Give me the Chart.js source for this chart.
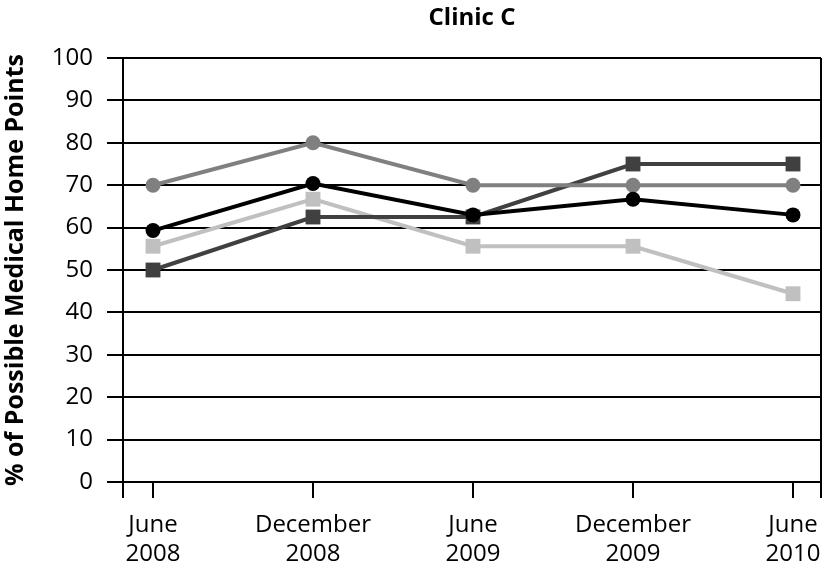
<!DOCTYPE html>
<html>
<head>
<meta charset="utf-8">
<script src="https://cdn.jsdelivr.net/npm/chart.js@4/dist/chart.umd.min.js"></script>
<style>
  html, body { margin: 0; padding: 0; background: #fff; }
  #wrap { width: 825px; height: 570px; }
</style>
</head>
<body>
<div id="wrap"><canvas id="chart" width="825" height="570"></canvas></div>
<script>
// --- Data ---
const categories = [['June', '2008'], ['December', '2008'], ['June', '2009'], ['December', '2009'], ['June', '2010']];
const blackCircles = [59.3, 70.4, 63.0, 66.7, 63.0];
const grayCircles = [70, 80, 70, 70, 70];
const darkSquares = [50, 62.5, 62.5, 75, 75];
const lightSquares = [55.6, 66.7, 55.6, 55.6, 44.4];
const yTicks = [0, 10, 20, 30, 40, 50, 60, 70, 80, 90, 100];

const FONT = '"Open Sans", "DejaVu Sans", sans-serif';
const xMin = -0.1875, xMax = 4.175;

function pts(values) {
  return values.map((v, i) => ({ x: i, y: v }));
}

function series(label, values, color, style) {
  const isRect = style === 'rect';
  return {
    label,
    data: pts(values),
    borderColor: color,
    backgroundColor: color,
    borderWidth: 4,
    pointStyle: style,
    pointRadius: isRect ? 10.5 : 7.5,
    pointBorderWidth: 0,
    tension: 0
  };
}

// title drawn centred over the plot area
const plotTitle = {
  id: 'plotTitle',
  afterDraw(chart) {
    const { ctx, chartArea } = chart;
    ctx.save();
    ctx.font = 'bold 24px ' + FONT;
    ctx.fillStyle = '#000';
    ctx.textAlign = 'center';
    ctx.textBaseline = 'middle';
    ctx.fillText('Clinic C', (chartArea.left + chartArea.right) / 2, 18);
    ctx.restore();
  }
};

new Chart(document.getElementById('chart').getContext('2d'), {
  type: 'line',
  data: {
    datasets: [
      series('Black', blackCircles, '#000000', 'circle'),
      series('Gray', grayCircles, '#808080', 'circle'),
      series('Dark', darkSquares, '#404040', 'rect'),
      series('Light', lightSquares, '#c0c0c0', 'rect')
    ]
  },
  options: {
    responsive: false,
    animation: false,
    layout: { autoPadding: false, padding: { top: 58, right: 4, left: 0, bottom: 0 } },
    scales: {
      x: {
        type: 'linear',
        min: xMin,
        max: xMax,
        afterBuildTicks(scale) {
          scale.ticks = [xMin, 0, 1, 2, 3, 4, xMax].map(v => ({ value: v }));
        },
        afterFit(scale) {
          scale.height = 88;
          scale.paddingLeft = 0;
          scale.paddingRight = 0;
        },
        ticks: {
          autoSkip: false,
          maxRotation: 0,
          color: '#000',
          padding: 13,
          font: { family: FONT, size: 24, lineHeight: 1.2 },
          callback: v => (Number.isInteger(v) && categories[v]) ? categories[v] : ''
        },
        grid: {
          drawOnChartArea: true,
          color: ctx => (ctx.tick && ctx.tick.value === xMax) ? '#000' : 'transparent',
          tickColor: '#000',
          lineWidth: 2,
          tickLength: 16
        },
        border: { color: '#000', width: 2 }
      },
      y: {
        min: 0,
        max: 100,
        afterBuildTicks(scale) {
          scale.ticks = yTicks.map(v => ({ value: v }));
        },
        afterFit(scale) { scale.width = 123; },
        ticks: {
          color: '#000',
          padding: 14,
          font: { family: FONT, size: 24 }
        },
        grid: { color: '#000', lineWidth: 2, tickLength: 16 },
        border: { color: '#000', width: 2 },
        title: {
          display: true,
          text: '% of Possible Medical Home Points',
          color: '#000',
          font: { family: FONT, size: 25, weight: 'bold', lineHeight: 1.2 },
          padding: { top: 1, bottom: 0 }
        }
      }
    },
    plugins: {
      legend: { display: false },
      title: { display: false },
      tooltip: { enabled: false }
    }
  },
  plugins: [plotTitle]
});
</script>
</body>
</html>
